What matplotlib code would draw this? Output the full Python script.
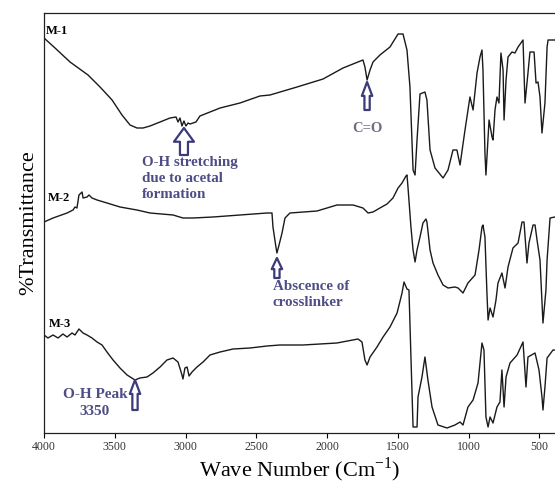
import matplotlib

matplotlib.use("Agg")
import matplotlib.pyplot as plt

# FTIR spectra, offset vertically (arbitrary %T units)
m1_wn = [4000, 3922, 3816, 3689, 3604, 3519, 3449, 3392, 3343, 3300, 3251, 3180,
         3110, 3067, 3053, 3039, 3025, 3011, 2997, 2982, 2968, 2926, 2898, 2827,
         2756, 2615, 2474, 2403, 2212, 2028, 1887, 1746, 1732, 1717, 1696, 1675,
         1626, 1555, 1498, 1463, 1435, 1414, 1392, 1378, 1364, 1343, 1308, 1294,
         1272, 1237, 1180, 1145, 1110, 1082, 1060, 1025, 990, 968, 940, 919, 905,
         898, 884, 877, 855, 834, 827, 813, 799, 785, 771, 756, 749, 735, 721,
         693, 672, 650, 615, 601, 580, 566, 537, 523, 509, 495, 481, 460, 445,
         438, 403, 389]
m1_t = [395, 385, 371, 358, 346, 333, 318, 308, 305, 305, 307, 311,
        315, 316, 311, 315, 307, 312, 307, 310, 309, 311, 317, 321,
        325, 330, 337, 338, 346, 354, 365, 373, 366, 353, 363, 371,
        378, 386, 399, 399, 383, 346, 263, 258, 293, 339, 341, 333,
        283, 265, 255, 263, 283, 283, 268, 303, 336, 323, 360, 376, 383,
        363, 280, 258, 313, 296, 293, 323, 336, 330, 380, 363, 313, 353, 376,
        381, 380, 386, 393, 330, 360, 381, 381, 350, 351, 336, 300, 330, 386,
        393, 393, 393]

m2_wn = [4000, 3936, 3837, 3795, 3781, 3767, 3753, 3731, 3724, 3696, 3682, 3661,
         3625, 3555, 3463, 3343, 3251, 3088, 3018, 2947, 2806, 2615, 2424, 2389,
         2382, 2361, 2354, 2339, 2318, 2297, 2262, 2071, 2000, 1930, 1816, 1746,
         1710, 1675, 1626, 1576, 1534, 1498, 1470, 1442, 1435, 1428, 1407, 1392,
         1378, 1364, 1343, 1322, 1301, 1294, 1272, 1251, 1216, 1180, 1145, 1096,
         1074, 1039, 1004, 954, 926, 905, 898, 884, 870, 862, 848, 827, 806, 792,
         764, 742, 721, 686, 650, 622, 608, 587, 573, 544, 530, 516, 495, 474,
         453, 445, 424, 389]
m2_t = [211, 215, 220, 223, 226, 225, 238, 241, 235, 236, 238, 235,
        233, 230, 226, 223, 220, 218, 215, 215, 216, 218, 220, 220,
        206, 186, 180, 188, 200, 215, 220, 222, 225, 228, 228, 225,
        220, 221, 225, 229, 235, 245, 250, 257, 258, 246, 206, 183,
        171, 183, 196, 210, 214, 211, 183, 170, 158, 148, 145, 146,
        145, 140, 150, 158, 183, 206, 208, 196, 140, 113, 125, 116, 133, 150,
        160, 145, 166, 185, 190, 211, 211, 170, 190, 208, 208, 193, 173, 110,
        143, 173, 215, 216]

m3_wn = [4000, 3972, 3936, 3901, 3866, 3837, 3802, 3781, 3753, 3724, 3696, 3661,
         3625, 3590, 3555, 3512, 3463, 3413, 3357, 3322, 3272, 3230, 3180, 3131,
         3088, 3053, 3025, 3018, 3004, 2989, 2975, 2954, 2919, 2876, 2827, 2756,
         2664, 2544, 2424, 2332, 2170, 1930, 1781, 1753, 1732, 1717, 1696, 1647,
         1604, 1555, 1505, 1470, 1456, 1435, 1421, 1400, 1392, 1364, 1357, 1329,
         1308, 1287, 1258, 1216, 1152, 1096, 1060, 1039, 1004, 968, 933, 905,
         891, 877, 862, 848, 827, 799, 778, 764, 749, 735, 707, 657, 615, 594,
         580, 530, 502, 481, 474, 460, 445, 403, 389]
m3_t = [98, 95, 98, 95, 99, 96, 100, 98, 104, 100, 98, 95,
        91, 88, 81, 73, 65, 58, 53, 55, 56, 60, 66, 73,
        75, 71, 58, 54, 65, 66, 57, 61, 66, 71, 78, 81,
        84, 85, 87, 88, 88, 90, 94, 91, 73, 68, 76, 86,
        96, 106, 120, 140, 151, 144, 143, 43, 6, 6, 36, 56,
        76, 53, 26, 8, 5, 8, 11, 8, 26, 33, 50, 90,
        83, 16, 6, 16, 10, 26, 31, 63, 26, 56, 70, 78, 91, 46,
        76, 80, 63, 36, 23, 46, 75, 83, 83]

series = [("M-1", m1_wn, m1_t), ("M-2", m2_wn, m2_t), ("M-3", m3_wn, m3_t)]
label_pos = {"M-1": (3990, 396), "M-2": (3975, 229), "M-3": (3965, 103)}

ANN_TXT = "#4e4d86"
ANN_EDGE = "#3c3a78"

plt.rcParams["font.family"] = ["Liberation Serif", "DejaVu Serif"]

fig = plt.figure(figsize=(5.55, 4.83), dpi=100)
ax = fig.add_axes([44 / 555, 50 / 483, 511 / 555, 420 / 483])

for name, wn, t in series:
    ax.plot(wn, t, color="#1a1a1a", lw=1.0)
    x, y = label_pos[name]
    ax.text(x, y, name, fontsize=9, fontweight="bold", ha="left", va="bottom")

ax.set_xlim(4000, 389)
ax.set_ylim(0, 420)
ax.set_xticks([4000, 3500, 3000, 2500, 2000, 1500, 1000, 500])
ax.set_yticks([])
ax.tick_params(axis="x", length=3.5, width=0.8, pad=2, labelsize=8.5, labelcolor="#333333")
ax.spines["right"].set_visible(False)
for s in ("left", "top", "bottom"):
    ax.spines[s].set_linewidth(0.9)
    ax.spines[s].set_color("#222222")

ax.set_xlabel("Wave Number (Cm$^{\\mathregular{-1}}$)", fontsize=16, labelpad=2)
ax.set_ylabel("%Transmittance", fontsize=16, labelpad=4)


def block_arrow(tip, tail, scale, hl, hw, tw):
    ax.annotate("", xy=tip, xytext=tail,
                arrowprops=dict(arrowstyle=f"simple,head_length={hl},head_width={hw},tail_width={tw}",
                                fc="white", ec=ANN_EDGE, lw=1.6, mutation_scale=scale,
                                shrinkA=0, shrinkB=0))


block_arrow((3011, 305), (3011, 278), 18, 0.55, 0.8, 0.32)
block_arrow((1717, 351), (1717, 323), 10, 1.0, 0.75, 0.38)
block_arrow((2354, 175), (2354, 155), 10, 0.8, 0.75, 0.38)
block_arrow((3357, 53), (3357, 23), 10, 1.0, 0.75, 0.38)

ax.text(3307, 277, "O-H stretching\ndue to acetal\nformation", fontsize=10.8, fontweight="bold",
        color=ANN_TXT, ha="left", va="top", linespacing=1.3)
ax.text(1717, 305, "C=O", fontsize=10.5, fontweight="bold", color="#6e6e80", ha="center", va="center")
ax.text(2385, 153, "Abscence of\ncrosslinker", fontsize=10.8, fontweight="bold",
        color=ANN_TXT, ha="left", va="top", linespacing=1.35)
ax.text(3640, 30, "O-H Peak\n3350", fontsize=11, fontweight="bold", color=ANN_TXT,
        ha="center", va="center", multialignment="center", linespacing=1.4)

fig.savefig("out.png", dpi=100)
